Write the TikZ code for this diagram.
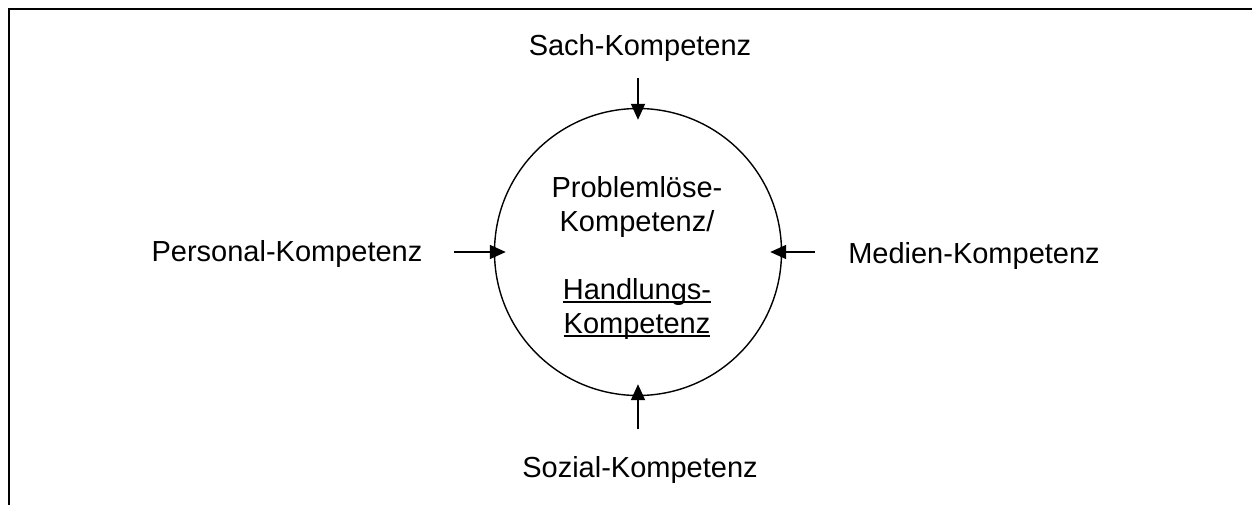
\documentclass[tikz,border=0pt]{standalone}
\usepackage{fontspec}
\setmainfont{Liberation Sans}
\usetikzlibrary{arrows.meta}
\newcommand\ulbox[1]{\setbox0\hbox{#1}\rlap{\rule[-3.5pt]{\wd0}{1.8pt}}\box0}
\begin{document}
\begin{tikzpicture}[x=1pt,y=-1pt,
  lbl/.style={font=\fontsize{29}{34}\selectfont, inner sep=0pt, anchor=base},
  feed/.style={line width=1.8pt, -{Triangle[length=16pt,width=14pt]}, shorten >=-12pt}]
\useasboundingbox (0,0) rectangle (1252,505);
\draw[line width=2.2pt] (9,505) -- (9,9) -- (1252,9);
\node[circle, draw, line width=1.4pt, minimum size=287pt, inner sep=0pt] (core) at (638,252) {};
\node[font=\fontsize{29}{34}\selectfont, align=center, anchor=base, inner sep=0pt] (inner) at (637,333)
  {Problemlöse-\\Kompetenz/\\[34pt]\ulbox{Handlungs-}\\\ulbox{Kompetenz}};
\node[lbl] (sach) at (640,56) {Sach-Kompetenz};
\node[lbl] (pers) at (287,261) {Personal-Kompetenz};
\node[lbl] (med) at (974,263) {Medien-Kompetenz};
\node[lbl] (soz) at (640,477) {Sozial-Kompetenz};
\coordinate (sa) at (638,78);
\coordinate (pa) at (454,252);
\coordinate (ma) at (815,252);
\coordinate (sza) at (638,429);
\draw[feed] (sa) -- (core.north);
\draw[feed] (pa) -- (core.west);
\draw[feed] (ma) -- (core.east);
\draw[feed] (sza) -- (core.south);
\end{tikzpicture}
\end{document}
